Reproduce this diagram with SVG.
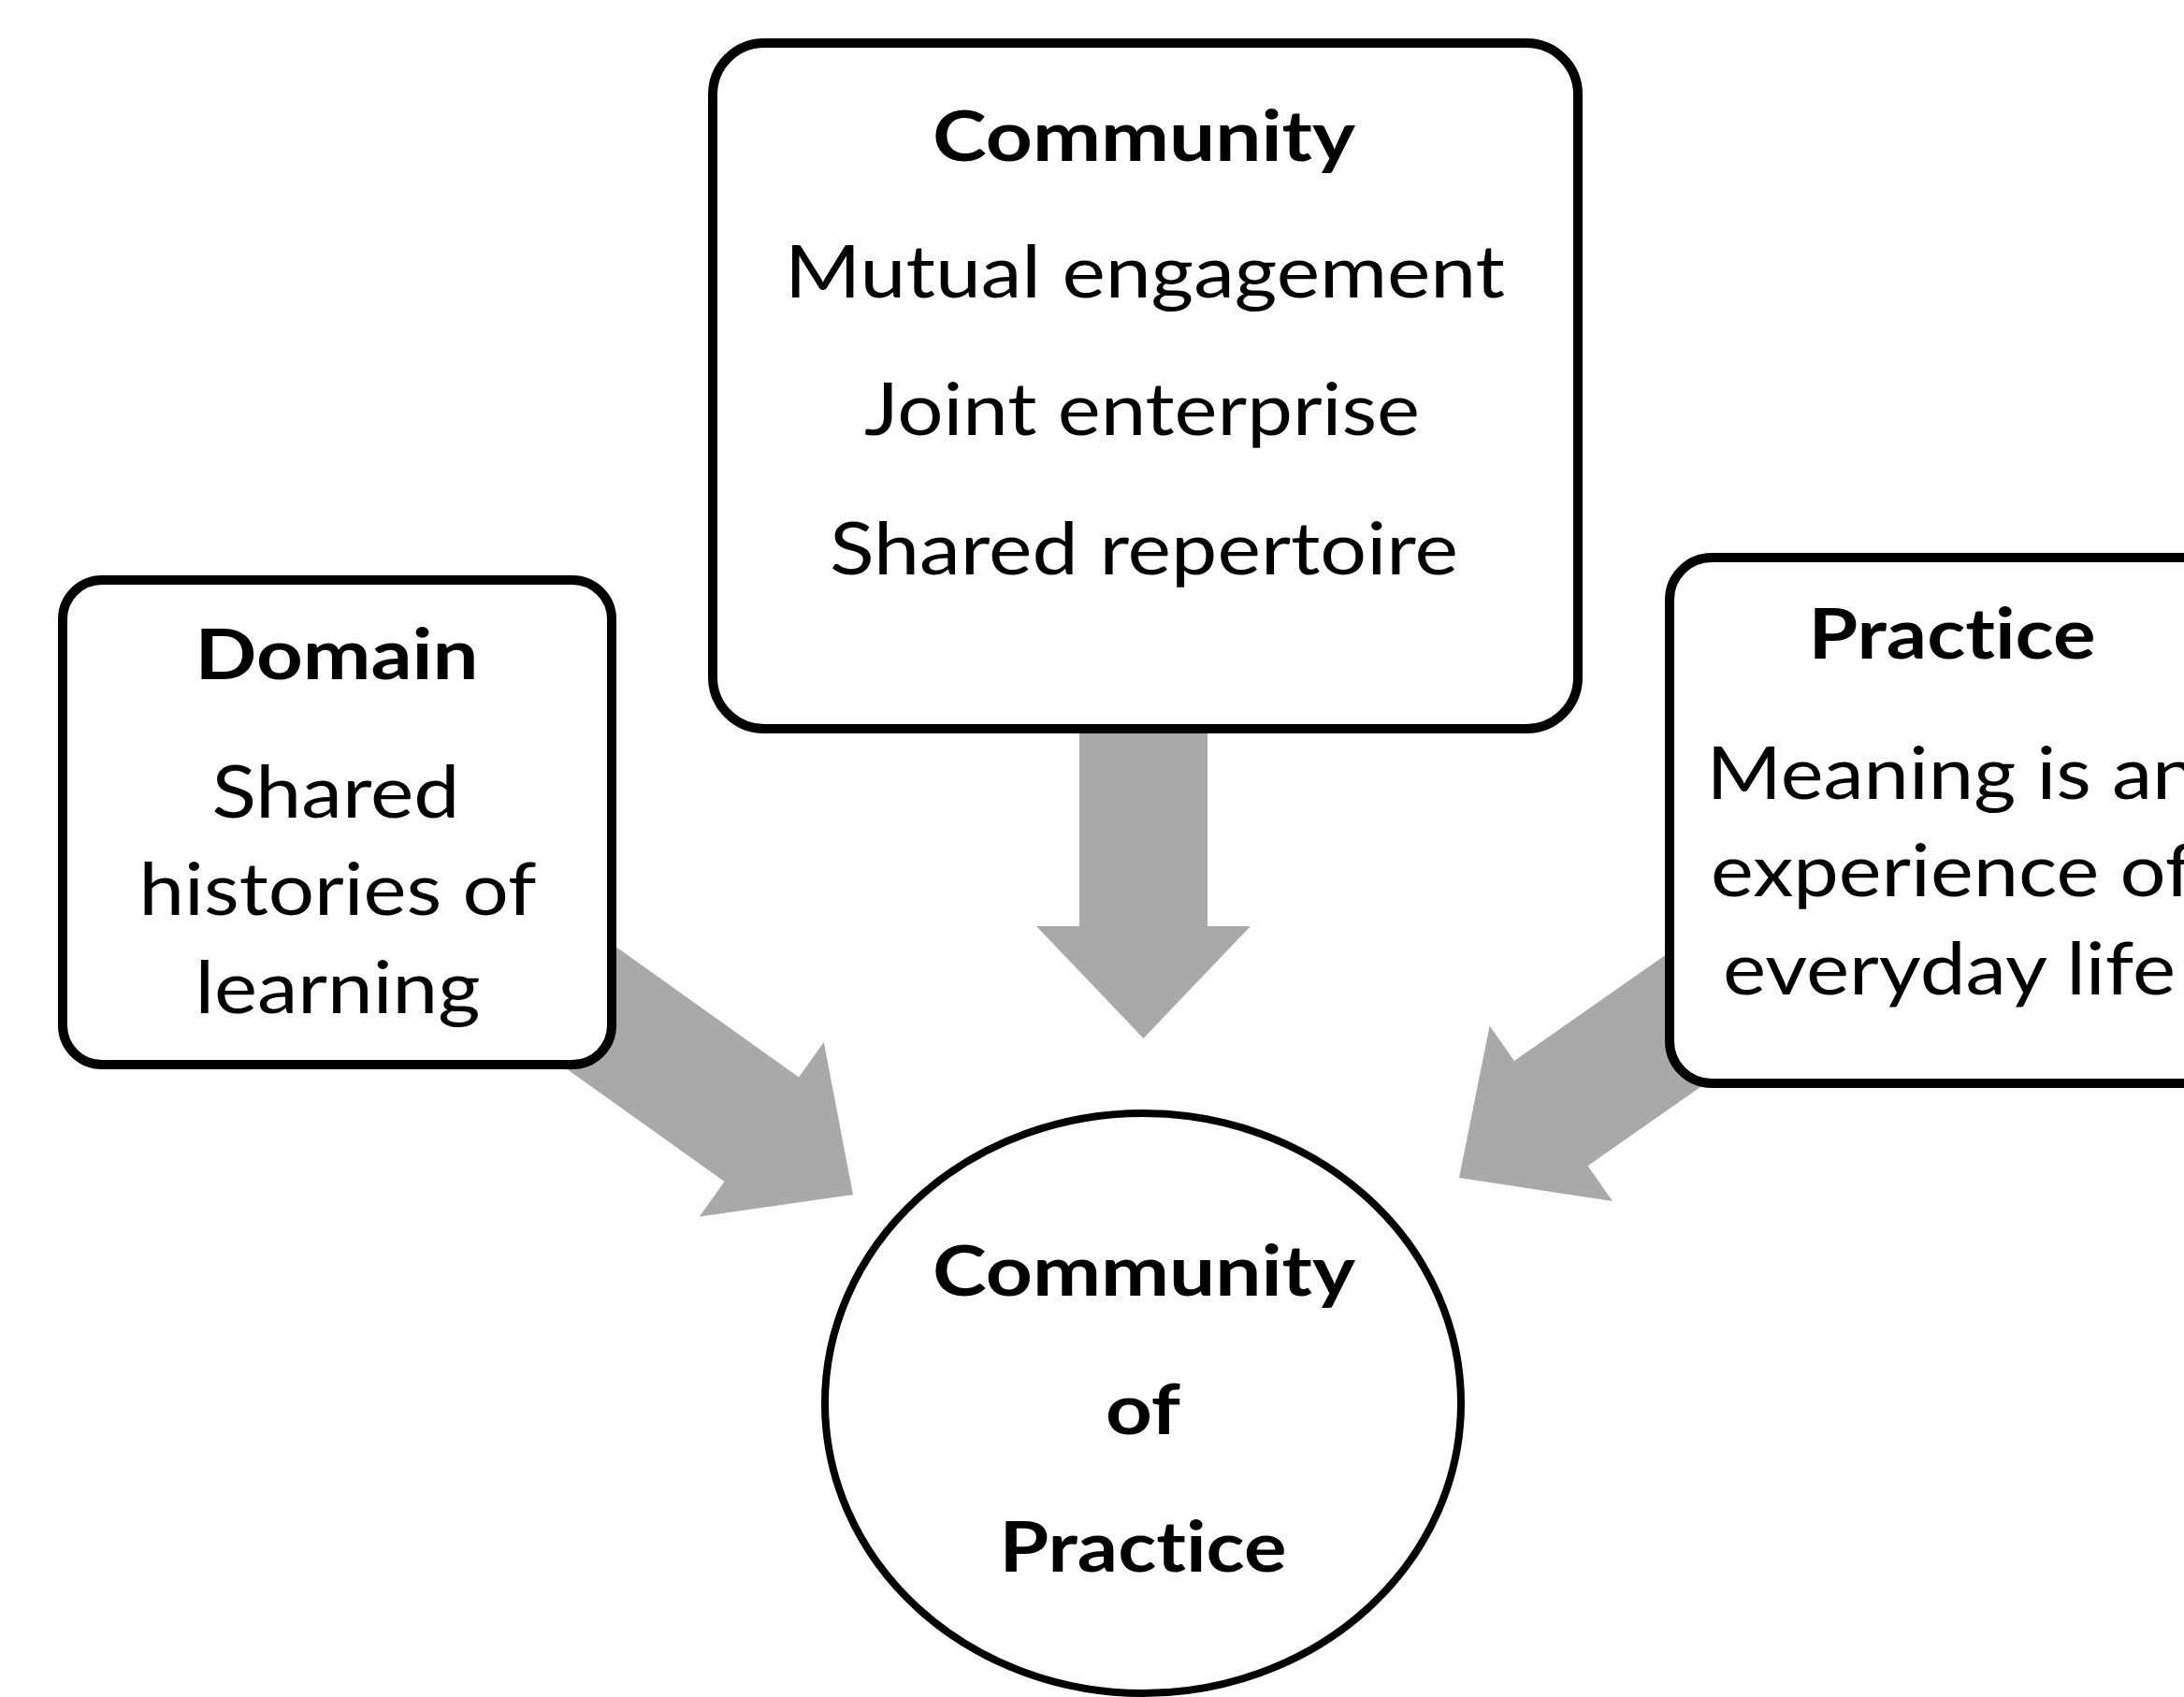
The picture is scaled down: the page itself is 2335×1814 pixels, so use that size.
<svg xmlns="http://www.w3.org/2000/svg" width="2335" height="1814" viewBox="0 0 2335 1814">
  <style>
    .box { fill: #ffffff; stroke: #000000; stroke-width: 10; }
    .hub { fill: #ffffff; stroke: #000000; stroke-width: 8; }
    .arrow { fill: #a9a9a9; stroke: none; }
    text { font-family: Lato, "Open Sans", "Liberation Sans", sans-serif; text-anchor: middle; fill: #000000; font-variant-ligatures: none; font-feature-settings: "liga" 0, "clig" 0; }
    .title { font-weight: bold; font-size: 74px; }
    .body { font-weight: normal; font-size: 78px; }
  </style>
  <defs>
    <!-- block arrow, tip at the origin pointing along +x -->
    <path id="blockArrow" d="M0,0 L-120,-114.5 L-120,-68.5 L-380,-68.5 L-380,68.5 L-120,68.5 L-120,114.5 Z"/>
  </defs>
  <rect width="2335" height="1814" fill="#ffffff"/>

  <!-- connectors: three grey block arrows pointing to the hub -->
  <g id="connectors" class="arrow">
    <use href="#blockArrow" transform="translate(1222.5,1110) rotate(90)"/>
    <use href="#blockArrow" transform="translate(912,1277) rotate(35.5)"/>
    <use href="#blockArrow" transform="translate(1560,1259) rotate(145)"/>
  </g>

  <g id="node-community">
    <rect class="box" x="762" y="46" width="925" height="733" rx="55" ry="55"/>
    <text class="title" x="1223" y="172" textLength="452" lengthAdjust="spacingAndGlyphs">Community</text>
    <text class="body" x="1224" y="318" textLength="770" lengthAdjust="spacingAndGlyphs">Mutual engagement</text>
    <text class="body" x="1221" y="465" textLength="594" lengthAdjust="spacingAndGlyphs">Joint enterprise</text>
    <text class="body" x="1223" y="614" textLength="672" lengthAdjust="spacingAndGlyphs">Shared repertoire</text>
  </g>

  <g id="node-domain">
    <rect class="box" x="67" y="620" width="587" height="518" rx="42" ry="42"/>
    <text class="title" x="360" y="726" textLength="303" lengthAdjust="spacingAndGlyphs">Domain</text>
    <text class="body" x="359" y="874" textLength="265" lengthAdjust="spacingAndGlyphs">Shared</text>
    <text class="body" x="361" y="978" textLength="425" lengthAdjust="spacingAndGlyphs">histories of</text>
    <text class="body" x="361" y="1083" textLength="305" lengthAdjust="spacingAndGlyphs">learning</text>
  </g>

  <g id="node-practice">
    <rect class="box" x="1785" y="596" width="604" height="562" rx="45" ry="45"/>
    <text class="title" x="2087" y="704" textLength="307" lengthAdjust="spacingAndGlyphs">Practice</text>
    <text class="body" x="2087" y="854" textLength="525" lengthAdjust="spacingAndGlyphs">Meaning is an</text>
    <text class="body" x="2087" y="958" textLength="516" lengthAdjust="spacingAndGlyphs">experience of</text>
    <text class="body" x="2084" y="1063" textLength="484" lengthAdjust="spacingAndGlyphs">everyday life</text>
  </g>

  <g id="node-community-of-practice">
    <ellipse class="hub" cx="1222" cy="1500" rx="340" ry="310"/>
    <text class="title" x="1223" y="1385" textLength="452" lengthAdjust="spacingAndGlyphs">Community</text>
    <text class="title" x="1222" y="1533" textLength="80" lengthAdjust="spacingAndGlyphs">of</text>
    <text class="title" x="1222" y="1680" textLength="307" lengthAdjust="spacingAndGlyphs">Practice</text>
  </g>
</svg>
